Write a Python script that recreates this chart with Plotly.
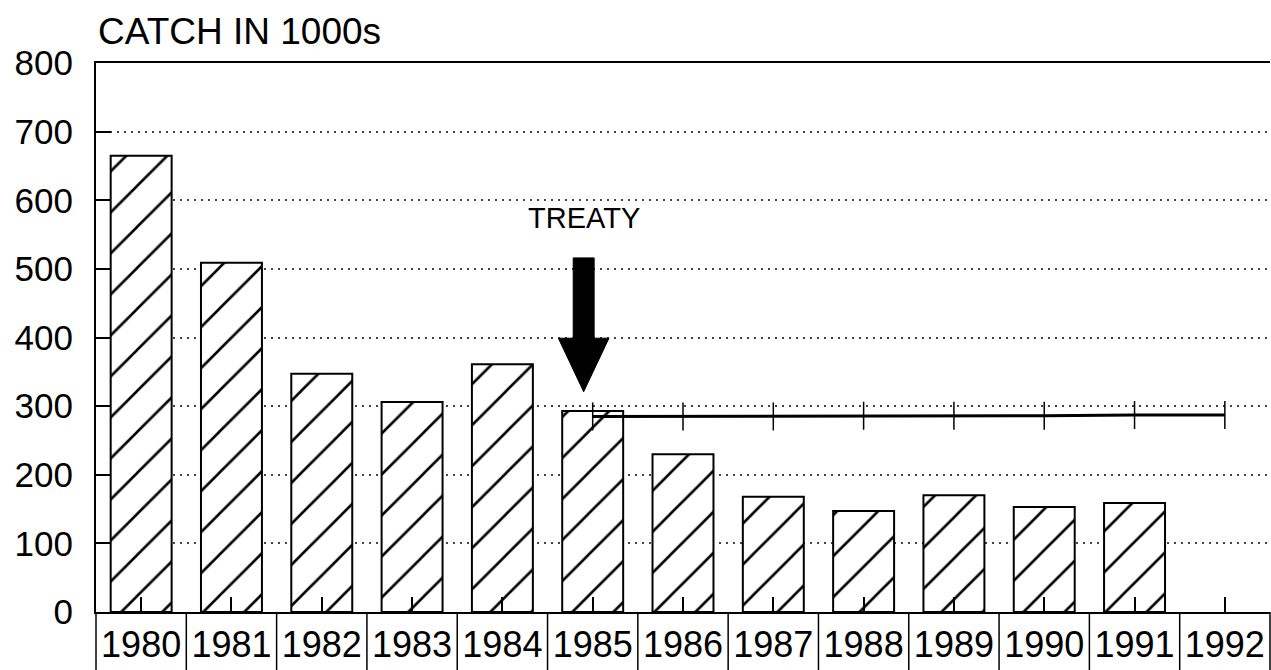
import plotly.graph_objects as go

# ---- data ----
years = [1980, 1981, 1982, 1983, 1984, 1985, 1986, 1987, 1988, 1989, 1990, 1991, 1992]
catch_years = [1980, 1981, 1982, 1983, 1984, 1985, 1986, 1987, 1988, 1989, 1990, 1991]
catch_values = [665, 509, 347, 306, 361, 293, 230, 168, 147, 170, 153, 159]
limit_years = [1985, 1986, 1987, 1988, 1989, 1990, 1991, 1992]
limit_values = [285, 285, 285, 286, 286, 286, 287, 287]
y_ticks = [0, 100, 200, 300, 400, 500, 600, 700, 800]
title_text = "CATCH IN 1000s"
treaty_text = "TREATY"
treaty_year = 1984.9

FONT = "Liberation Sans, Arial, sans-serif"

fig = go.Figure()

fig.add_trace(go.Bar(
    x=catch_years, y=catch_values, width=0.675,
    marker=dict(color="white", line=dict(color="black", width=2),
                pattern=dict(shape="/", fgcolor="black", bgcolor="white",
                             fgopacity=1, fillmode="replace",
                             size=29, solidity=0.09)),
    showlegend=False, hoverinfo="x+y",
))

fig.add_trace(go.Scatter(
    x=limit_years, y=limit_values, mode="lines+markers",
    line=dict(color="black", width=3),
    marker=dict(symbol="line-ns", size=20, line=dict(color="black", width=1.5)),
    showlegend=False,
))

# Treaty arrow (filled polygon, positioned relative to treaty_year)
sw, hw = 0.116, 0.28
ytop, ybase, ytip = 516, 399, 321
path = (f"M{treaty_year-sw},{ytop} L{treaty_year+sw},{ytop} L{treaty_year+sw},{ybase} "
        f"L{treaty_year+hw},{ybase} L{treaty_year},{ytip} L{treaty_year-hw},{ybase} "
        f"L{treaty_year-sw},{ybase} Z")
fig.add_shape(type="path", path=path, xref="x", yref="y",
              fillcolor="black", line=dict(color="black", width=1))

fig.add_annotation(x=treaty_year, y=574, xref="x", yref="y", text=treaty_text,
                   showarrow=False, font=dict(family=FONT, size=29, color="black"))

# title
fig.add_annotation(x=0, y=1.058, xref="paper", yref="paper", xanchor="left", yanchor="middle",
                   text=title_text, showarrow=False,
                   font=dict(family=FONT, size=37, color="black"))

# label box separators below x axis
n = len(years)
for i in range(n + 1):
    fig.add_shape(type="line", xref="paper", yref="paper", x0=i / n, x1=i / n,
                  y0=0, y1=-0.2, line=dict(color="black", width=1.5))

fig.update_layout(
    width=1271, height=670,
    margin=dict(l=96, r=1, t=63, b=58, autoexpand=False),
    plot_bgcolor="white", paper_bgcolor="white",
    font=dict(family=FONT, color="black"),
    bargap=0.3,
)
fig.update_xaxes(
    range=[years[0] - 0.5, years[-1] + 0.5],
    tickvals=years, ticktext=[str(y) for y in years],
    ticks="inside", ticklen=15, tickwidth=1.5, tickcolor="black",
    showline=True, linecolor="black", linewidth=2, mirror=True,
    showgrid=False, zeroline=False, automargin=False,
    tickfont=dict(family=FONT, size=36, color="black"),
    ticklabelstandoff=0,
)
fig.update_yaxes(
    range=[0, 800], tickvals=y_ticks,
    ticks="inside", ticklen=15, tickwidth=2, tickcolor="black",
    showline=True, linecolor="black", linewidth=2,
    showgrid=True, gridcolor="#444", gridwidth=1.5, griddash="2px,5px",
    zeroline=False, automargin=False,
    tickfont=dict(family=FONT, size=35, color="black"),
    ticklabelstandoff=14,
)

fig.write_html(
    "out.html",
    config={"displayModeBar": False},
    post_script="document.body.style.margin='0';document.body.style.overflow='hidden';",
)
